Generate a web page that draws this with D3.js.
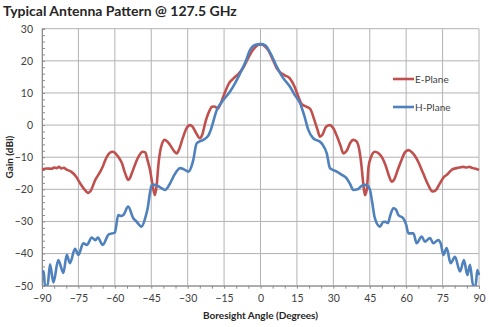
<!DOCTYPE html>
<html><head><meta charset="utf-8">
<script src="https://cdn.jsdelivr.net/npm/d3@7"></script>
<style>body{margin:0;background:#fff}svg{display:block}</style>
</head><body><svg id="c" width="489" height="327"></svg>
<script>
const title = "Typical Antenna Pattern @ 127.5 GHz";
const xTitle = "Boresight Angle (Degrees)";
const yTitle = "Gain (dBi)";
const xTicks = [-90,-75,-60,-45,-30,-15,0,15,30,45,60,75,90];
const yTicks = [-50,-40,-30,-20,-10,0,10,20,30];
const seriesNames = ["E-Plane","H-Plane"];
const seriesColors = ["#c0504d","#4f81bd"];

const eAngle = [-90,-88,-86,-85,-84,-83,-82,-81,-80,-78,-76,-74,-72,-71,-70,-68,-66,-65,-64,-63,-62,-61,-60,-59,-57,-56,-55,-54.5,-54,-53,-51,-50,-48.5,-47.5,-46.5,-45.5,-44.5,-43.5,-42.8,-42,-41,-39.5,-38.5,-37,-35.5,-34.5,-33.5,-32,-30.5,-29,-28,-26.5,-25,-24,-22.5,-21,-20,-19,-17.5,-16.5,-15,-13,-11,-9,-7,-5,-3,-1,0,1,3,5,6.7,8,10,12,14,15.6,17,19,20.5,22,23.5,24.5,25.5,27,28.6,30,31.5,33,34.1,35.5,37,38.2,39.5,40.5,41.5,42.3,43,43.8,44.5,45.5,47.1,48.5,50,51.5,53,54,55,56.5,58,59.5,60.9,62,63.5,65,67,69,70.5,71.2,72.5,74,75.5,76.7,78,79,80.8,82,83.5,85,86,87.5,89,90];
const eGain = [-13.8,-13.5,-13.6,-13.2,-13.4,-13.0,-13.5,-13.3,-13.8,-14.5,-16,-18.5,-20.5,-21.1,-20.5,-17,-14.5,-13,-11,-9.5,-8.6,-8.3,-8.6,-9.5,-12,-14.5,-16.5,-17.1,-16.8,-15,-11,-9.5,-8.3,-8.5,-11,-14,-18.5,-21.8,-19,-12,-7,-4.6,-5,-6.5,-8.2,-8.8,-7.5,-4,-1,0,-0.5,-2.5,-4.1,-3,1.5,4.5,5.7,5.8,5.2,6.5,9.5,13,14.6,16,18,21,23.5,25,25.2,25,23.5,20.5,17.7,16.5,15.5,14.6,12,8.8,6.5,5.7,5,2,-1.5,-3.6,-3,-0.5,0,-1,-3.5,-6.5,-8.8,-8,-5.5,-4.6,-5,-7,-12,-18,-21.8,-20,-13,-10,-8.3,-8.7,-10,-12.5,-16,-17.6,-17,-14,-11,-8.5,-7.8,-8.2,-9.5,-11.5,-15,-18.5,-20.5,-20.7,-20,-18,-16.2,-15.5,-14.5,-13.8,-13.4,-13.2,-13.0,-13.2,-13.0,-13.4,-13.7,-14];

const hAngle = [-90,-89.3,-88.8,-87.7,-86.7,-85.3,-83.3,-81.2,-79.8,-78.5,-76.4,-75,-73,-71.5,-69.5,-68,-67,-65,-62.5,-60,-58.6,-57.5,-56.5,-54.5,-52.4,-51,-49,-47.5,-46.5,-45.5,-44.8,-43.5,-41.5,-39.3,-37.5,-35.9,-33.1,-31.5,-29.7,-28.5,-27.7,-26.3,-23.6,-21.5,-20.5,-18,-15.3,-12.6,-10.5,-8.4,-6,-4.3,-2,0,2,4,6.7,9,12.1,14,16.3,18,19.7,21.7,24.5,25.5,27.3,28.6,30,31.4,33.5,35.5,37,38.2,40,41.5,43,44,45.1,46,47.1,49.2,50.5,51.5,52.5,53.5,54.7,55.7,56.8,58.8,60,60.9,63,64.3,66.4,67.7,69.8,71.2,73.2,74.3,75.3,76.7,78.3,80.1,82.2,83.8,85.2,86.3,87.6,88.6,89.3,90];
const hGain = [-46,-45.5,-50,-50,-43.3,-49,-42,-46,-40.4,-43,-38.5,-40.4,-36.8,-37.3,-35,-35.8,-35,-37.3,-34,-33.5,-28,-28.3,-28,-25.4,-29,-30.1,-31.6,-29,-26,-21,-18.6,-18.6,-19.3,-20.2,-18.5,-16.1,-13.4,-13.8,-14.5,-13,-10.9,-5.7,-4.6,-3.3,-1.5,4.7,7.8,10.4,13,16.1,20,23.4,25,25.2,24.8,22.5,18.2,15,12,9.5,6.8,3,-1.5,-4.1,-5.2,-6,-8.8,-13.4,-14,-14.5,-15.5,-16.6,-18.5,-20.2,-20,-19,-18.6,-18.8,-20.2,-24,-29,-31.6,-30.2,-30.1,-30.5,-28,-25.9,-26.2,-28,-29,-31,-33.7,-33.7,-36.8,-34.7,-36.3,-35.2,-36.8,-35.8,-37,-40.4,-38.3,-43,-41,-45.6,-42,-46.7,-43.5,-50,-50,-45.1,-46.7];

const svg = d3.select("#c");
const L = 42, R = 479, T = 28.7, B = 285.7;
const x = d3.scaleLinear().domain([-90,90]).range([L,R]);
const y = d3.scaleLinear().domain([-50,30]).range([B,T]);
const font = "Lato, 'Open Sans', sans-serif";

// grid
svg.append("g").selectAll("line").data(xTicks).join("line")
  .attr("x1",d=>x(d)).attr("x2",d=>x(d)).attr("y1",T).attr("y2",B)
  .attr("stroke","#b3b3b3").attr("stroke-width",1);
svg.append("g").selectAll("line").data(yTicks).join("line")
  .attr("x1",L).attr("x2",R).attr("y1",d=>y(d)).attr("y2",d=>y(d))
  .attr("stroke","#b3b3b3").attr("stroke-width",1);

// axes
const gx = svg.append("g").attr("transform",`translate(0,${B})`)
  .call(d3.axisBottom(x).tickValues(d3.range(-90,91,5)).tickSize(3).tickFormat(""));
gx.select(".domain").attr("stroke","#8c8c8c");
gx.selectAll(".tick line").attr("stroke","#8c8c8c");
const gx2 = svg.append("g").attr("transform",`translate(0,${B})`)
  .call(d3.axisBottom(x).tickValues(xTicks).tickSize(0).tickPadding(9));
gx2.select(".domain").remove();
gx2.selectAll("text").attr("font-family",font).attr("font-size",10.5).attr("fill","#404040");

const gy = svg.append("g").attr("transform",`translate(${L},0)`)
  .call(d3.axisRight(y).tickValues(d3.range(-50,31,2)).tickSize(3).tickFormat(""));
gy.select(".domain").attr("stroke","#8c8c8c");
gy.selectAll(".tick line").attr("stroke","#8c8c8c");
const gy2 = svg.append("g").attr("transform",`translate(${L},0)`)
  .call(d3.axisLeft(y).tickValues(yTicks).tickSize(0).tickPadding(9));
gy2.select(".domain").remove();
gy2.selectAll("text").attr("font-family",font).attr("font-size",10.5).attr("fill","#404040");

// clip
svg.append("clipPath").attr("id","clip").append("rect")
  .attr("x",L).attr("y",T-3).attr("width",R-L+3).attr("height",B-T+3);

const line = d3.line().x(d=>x(d[0])).y(d=>y(d[1])).curve(d3.curveMonotoneX);
const series = [d3.zip(eAngle,eGain), d3.zip(hAngle,hGain)];
svg.append("g").attr("clip-path","url(#clip)").selectAll("path").data(series).join("path")
  .attr("d",line).attr("fill","none")
  .attr("stroke",(d,i)=>seriesColors[i]).attr("stroke-width",2.6)
  .attr("stroke-linejoin","round");

// legend
const lg = svg.append("g");
seriesNames.forEach((n,i)=>{
  const yy = 79 + i*28;
  lg.append("line").attr("x1",393).attr("x2",414).attr("y1",yy).attr("y2",yy)
    .attr("stroke",seriesColors[i]).attr("stroke-width",2.6);
  lg.append("text").attr("x",415).attr("y",yy).attr("dy","0.35em")
    .attr("font-family",font).attr("font-size",10).attr("fill","#404040").text(n);
});

// titles
svg.append("text").attr("x",3).attr("y",16).attr("font-family",font)
  .attr("font-weight","bold").attr("font-size",14).attr("fill","#262626").text(title);
svg.append("text").attr("x",x(0)).attr("y",319).attr("text-anchor","middle")
  .attr("font-family",font).attr("font-weight","bold").attr("font-size",10).attr("fill","#262626").text(xTitle);
svg.append("text").attr("transform",`translate(13,${(T+B)/2}) rotate(-90)`)
  .attr("text-anchor","middle").attr("font-family",font).attr("font-weight","bold")
  .attr("font-size",10).attr("fill","#262626").text(yTitle);
</script></body></html>
